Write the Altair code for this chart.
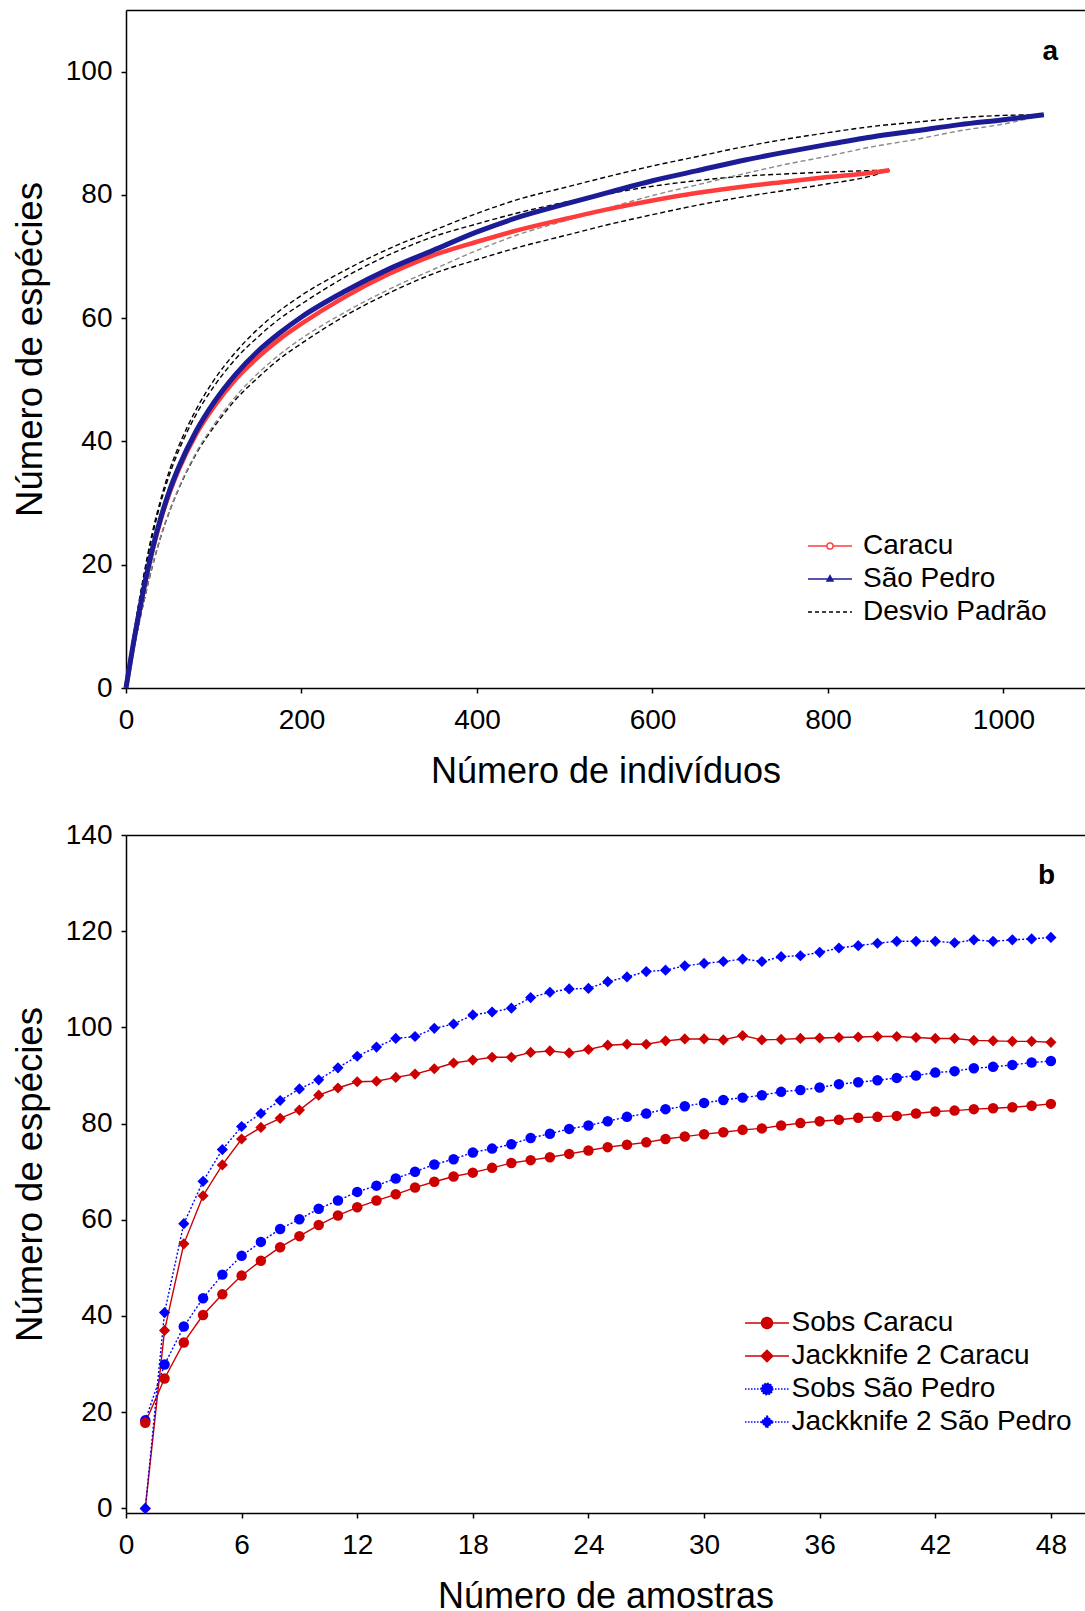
import altair as alt
import pandas as pd

FONT = "Liberation Sans"

# ---------------- Panel a: rarefaction by number of individuals ----------------
ind_sp = [0, 10, 20, 30, 40, 50, 60, 80, 100, 125, 150, 175, 200, 250, 300, 350,
          400, 450, 500, 550, 600, 650, 700, 750, 800, 850, 900, 950, 1000, 1046]
sp_mean = [0, 8.5, 16.0, 22.5, 27.8, 32.2, 35.8, 41.7, 46.3, 50.9, 54.6, 57.6, 60.2,
           64.4, 68.0, 71.0, 74.0, 76.5, 78.5, 80.4, 82.3, 83.9, 85.5, 86.9, 88.2,
           89.4, 90.4, 91.4, 92.2, 93.0]
sp_upper = [0, 9.8, 18.1, 25.2, 30.8, 35.5, 39.2, 45.2, 49.9, 54.5, 58.2, 61.2, 63.7,
            67.8, 71.3, 74.2, 77.0, 79.4, 81.2, 83.0, 84.7, 86.2, 87.7, 89.0, 90.1,
            91.1, 91.8, 92.5, 92.9, 93.0]
sp_lower = [0, 7.2, 13.9, 19.8, 24.8, 28.9, 32.4, 38.2, 42.7, 47.3, 51.0, 54.1, 56.7,
            61.0, 64.7, 67.9, 71.0, 73.7, 75.8, 77.9, 79.9, 81.6, 83.3, 84.9, 86.3,
            87.8, 89.0, 90.4, 91.5, 93.0]

ind_car = [0, 10, 20, 30, 40, 50, 60, 80, 100, 125, 150, 175, 200, 250, 300, 350,
           400, 450, 500, 550, 600, 650, 700, 750, 800, 850, 870]
car_mean = [0, 8.4, 15.8, 22.2, 27.5, 31.8, 35.4, 41.2, 45.6, 50.1, 53.6, 56.6, 59.1,
            63.5, 67.2, 70.2, 72.4, 74.4, 76.1, 77.7, 79.1, 80.3, 81.3, 82.1, 82.9,
            83.6, 84.0]
car_upper = [0, 9.6, 17.8, 24.7, 30.3, 34.8, 38.5, 44.4, 48.9, 53.4, 56.9, 59.9, 62.3,
             66.7, 70.3, 73.2, 75.3, 77.2, 78.8, 80.2, 81.4, 82.3, 83.0, 83.4, 83.7,
             83.95, 84.0]
car_lower = [0, 7.2, 13.8, 19.7, 24.7, 28.8, 32.3, 38.0, 42.3, 46.8, 50.3, 53.4, 55.9,
             60.4, 64.1, 67.2, 69.5, 71.6, 73.4, 75.2, 76.8, 78.3, 79.6, 80.7, 81.8,
             83.1, 84.0]

legend_a = ["Caracu", "São Pedro", "Desvio Padrão"]
bands = ["Caracu +DP", "Caracu -DP", "São Pedro +DP", "São Pedro -DP"]

# ---------------- Panel b: sample-based curves ----------------
samples = list(range(1, 49))
sobs_caracu = [17.8, 27.0, 34.5, 40.2, 44.5, 48.4, 51.5, 54.3, 56.6, 58.9, 60.9, 62.6,
               64.0, 65.3, 66.7, 67.9, 69.0, 69.8, 70.8, 71.8, 72.4, 73.0, 73.7, 74.4,
               75.1, 75.6, 76.1, 76.8, 77.3, 77.8, 78.2, 78.7, 79.0, 79.6, 80.1, 80.5,
               80.8, 81.2, 81.4, 81.6, 82.1, 82.5, 82.7, 83.0, 83.2, 83.4, 83.7, 84.1]
sobs_saopedro = [18.3, 29.9, 37.8, 43.7, 48.6, 52.5, 55.4, 58.1, 60.1, 62.3, 64.0, 65.8,
                 67.1, 68.6, 70.0, 71.5, 72.6, 74.0, 74.8, 75.7, 77.0, 77.9, 78.9, 79.6,
                 80.5, 81.4, 82.1, 83.0, 83.6, 84.3, 84.9, 85.4, 85.9, 86.6, 87.0, 87.5,
                 88.2, 88.6, 89.0, 89.5, 90.0, 90.6, 90.9, 91.5, 91.8, 92.2, 92.7, 93.0]
jack_caracu = [0, 37.0, 55.0, 65.0, 71.4, 76.8, 79.2, 81.1, 82.8, 85.9, 87.4, 88.7,
               88.8, 89.6, 90.3, 91.4, 92.6, 93.2, 93.8, 93.8, 94.8, 95.1, 94.7, 95.4,
               96.3, 96.5, 96.5, 97.2, 97.6, 97.6, 97.4, 98.3, 97.4, 97.5, 97.7, 97.8,
               97.9, 98.0, 98.1, 98.1, 97.9, 97.7, 97.7, 97.3, 97.2, 97.1, 97.1, 96.9]
jack_saopedro = [0, 40.7, 59.2, 68.0, 74.6, 79.4, 82.1, 84.8, 87.2, 89.1, 91.6, 94.0,
                 95.9, 97.7, 98.1, 99.8, 100.7, 102.6, 103.2, 104.0, 106.2, 107.3, 108.0,
                 108.1, 109.5, 110.5, 111.6, 111.9, 112.8, 113.3, 113.7, 114.2, 113.7,
                 114.7, 114.9, 115.6, 116.5, 117.0, 117.5, 117.9, 117.9, 117.9, 117.6,
                 118.2, 117.9, 118.2, 118.4, 118.7]

series_b = ["Sobs Caracu", "Jackknife 2 Caracu", "Sobs São Pedro", "Jackknife 2 São Pedro"]
sites_b = ["Caracu", "São Pedro"]

# ---------------- tables ----------------
def table(x, y, group, band):
    return pd.DataFrame({"x": x, "y": y, "group": group, "band": band})

curves = pd.concat([
    table(ind_car, car_mean, "Caracu", "mean"),
    table(ind_sp, sp_mean, "São Pedro", "mean"),
    table(ind_car, car_upper, "Caracu", bands[0]),
    table(ind_car, car_lower, "Caracu", bands[1]),
    table(ind_sp, sp_upper, "São Pedro", bands[2]),
    table(ind_sp, sp_lower, "São Pedro", bands[3]),
], ignore_index=True)

# point order controls which marker sits on top
samples_df = pd.concat([
    pd.DataFrame({"n": samples, "spp": sobs_saopedro, "series": series_b[2], "site": "São Pedro", "kind": "Sobs"}),
    pd.DataFrame({"n": samples, "spp": sobs_caracu, "series": series_b[0], "site": "Caracu", "kind": "Sobs"}),
    pd.DataFrame({"n": samples, "spp": jack_caracu, "series": series_b[1], "site": "Caracu", "kind": "Jack"}),
    pd.DataFrame({"n": samples, "spp": jack_saopedro, "series": series_b[3], "site": "São Pedro", "kind": "Jack"}),
], ignore_index=True)

# ---------------- shared styling ----------------
PW, PH = 959, 678
LABEL = 28
TITLE = 36

def bottom_axis(values, title):
    return alt.Axis(orient="bottom", values=values, title=title, tickSize=5, format="d",
                    labelPadding=13, titlePadding=20, labelFlush=False, grid=False)

top_axis = alt.Axis(orient="top", labels=False, ticks=False, title=None, grid=False)

def left_axis(values):
    return alt.Axis(values=values, title="Número de espécies", tickSize=5,
                    labelPadding=9, titlePadding=16, titleFontSize=36.5, grid=False)

def panel_tag(letter, dx, dy):
    return alt.TitleParams(letter, anchor="end", orient="top", fontSize=28,
                           fontWeight="bold", font=FONT, dx=dx, dy=dy, offset=0,
                           baseline="alphabetic")

def combo_legend(x, y, offset):
    return alt.Legend(orient="none", legendX=x, legendY=y, title=None,
                      labelFontSize=28, labelFont=FONT, labelColor="black", labelLimit=0,
                      symbolSize=676, symbolStrokeWidth=1.5, symbolOffset=0,
                      labelOffset=offset, rowPadding=5, padding=0)

# ---------------- panel a ----------------
xa = alt.Scale(domain=[0, 1092.9], nice=False, zero=False)
ya = alt.Scale(domain=[0, 110], nice=False, zero=False)
ya_enc = alt.Y("y:Q", scale=ya, axis=left_axis([0, 20, 40, 60, 80, 100]))

bound_lines = alt.Chart(curves).transform_filter(alt.datum.band != "mean").mark_line(
    strokeWidth=1.4, strokeDash=[5, 3], interpolate="monotone"
).encode(
    x=alt.X("x:Q", scale=xa, axis=None),
    y=ya_enc,
    color=alt.Color("band:N", scale=alt.Scale(domain=bands,
                    range=["#000000", "#000000", "#000000", "#8a8a8a"]), legend=None),
)

caracu_line = alt.Chart(curves).transform_filter(
    (alt.datum.band == "mean") & (alt.datum.group == "Caracu")
).mark_line(color="#ff3b3b", strokeWidth=4.5, interpolate="monotone").encode(
    x=alt.X("x:Q", scale=xa, axis=bottom_axis([0, 200, 400, 600, 800, 1000], "Número de indivíduos")),
    y=ya_enc,
)

saopedro_line = alt.Chart(curves).transform_filter(
    (alt.datum.band == "mean") & (alt.datum.group == "São Pedro")
).mark_line(color="#1c1c96", strokeWidth=5, interpolate="monotone").encode(
    x=alt.X("x:Q", scale=xa, axis=top_axis),
    y=ya_enc,
)

r = 1.69
paths_a = [
    f"M-{r},0H-0.24M0.24,0H{r}M0.24,0A0.24,0.24,0,1,1,-0.24,0A0.24,0.24,0,1,1,0.24,0Z",
    f"M-{r},0H{r}M0,-0.26L0.23,0.16L-0.23,0.16Z",
    f"M-{r},0H{r}",
]
leg_a = combo_legend(690, 522, 19)
legend_layer_a = alt.Chart(curves).transform_filter("false").mark_point(
    filled=True, opacity=1
).encode(
    fill=alt.Fill("group:N", scale=alt.Scale(domain=legend_a, range=["#ffffff", "#1c1c96", "#000000"]), legend=leg_a),
    stroke=alt.Stroke("group:N", scale=alt.Scale(domain=legend_a, range=["#ff3b3b", "#1c1c96", "#000000"]), legend=leg_a),
    shape=alt.Shape("group:N", scale=alt.Scale(domain=legend_a, range=paths_a), legend=leg_a),
    strokeDash=alt.StrokeDash("group:N", scale=alt.Scale(domain=legend_a, range=[[1, 0], [1, 0], [4, 3]]), legend=leg_a),
)

panel_a = alt.layer(
    bound_lines, caracu_line, saopedro_line, legend_layer_a
).resolve_axis(x="independent").properties(width=PW, height=PH, title=panel_tag("a", -27, 78))

# ---------------- panel b ----------------
xb = alt.Scale(domain=[0, 49.77], nice=False, zero=False)
yb = alt.Scale(domain=[-0.96, 140], nice=False, zero=False)
yb_enc = alt.Y("spp:Q", scale=yb, axis=left_axis([0, 20, 40, 60, 80, 100, 120, 140]))
xb_plain = alt.X("n:Q", scale=xb, axis=None)

colors_b = ["#cc0000", "#cc0000", "#0000ff", "#0000ff"]
site_color = alt.Color("site:N", scale=alt.Scale(domain=sites_b, range=["#cc0000", "#0000ff"]), legend=None)

red_lines = alt.Chart(samples_df).transform_filter(alt.datum.site == "Caracu").mark_line(
    color="#cc0000", strokeWidth=1.4
).encode(
    x=alt.X("n:Q", scale=xb, axis=bottom_axis(list(range(0, 49, 6)), "Número de amostras")),
    y=yb_enc, detail="series:N",
)

blue_lines = alt.Chart(samples_df).transform_filter(alt.datum.site == "São Pedro").mark_line(
    color="#0000ff", strokeWidth=1.4, strokeDash=[2, 2]
).encode(
    x=alt.X("n:Q", scale=xb, axis=top_axis),
    y=yb_enc, detail="series:N",
)

circles = alt.Chart(samples_df).transform_filter(alt.datum.kind == "Sobs").mark_point(
    shape="circle", filled=True, opacity=1, size=110
).encode(x=xb_plain, y=yb_enc, color=site_color)

diamonds = alt.Chart(samples_df).transform_filter(alt.datum.kind == "Jack").mark_point(
    shape="diamond", filled=True, opacity=1, size=125
).encode(x=xb_plain, y=yb_enc, color=site_color)

paths_b = [
    f"M-{r},0H{r}M0.42,0A0.42,0.42,0,1,1,-0.42,0A0.42,0.42,0,1,1,0.42,0Z",
    f"M-{r},0H{r}M0,-0.44L0.44,0L0,0.44L-0.44,0Z",
    f"M-{r},0H{r}M0.44,0A0.44,0.44,0,1,1,-0.44,0A0.44,0.44,0,1,1,0.44,0Z",
    f"M-{r},0H{r}M0,-0.46L0.46,0L0,0.46L-0.46,0Z",
]
leg_b = combo_legend(627, 474, 10.5)
legend_layer_b = alt.Chart(samples_df).transform_filter("false").mark_point(
    filled=True, opacity=1
).encode(
    fill=alt.Fill("series:N", scale=alt.Scale(domain=series_b, range=colors_b), legend=leg_b),
    stroke=alt.Stroke("series:N", scale=alt.Scale(domain=series_b, range=colors_b), legend=leg_b),
    shape=alt.Shape("series:N", scale=alt.Scale(domain=series_b, range=paths_b), legend=leg_b),
    strokeDash=alt.StrokeDash("series:N", scale=alt.Scale(domain=series_b,
                              range=[[1, 0], [1, 0], [1.5, 1.5], [1.5, 1.5]]), legend=leg_b),
)

panel_b = alt.layer(
    red_lines, blue_lines, circles, diamonds, legend_layer_b
).resolve_axis(x="independent").properties(width=PW, height=PH, title=panel_tag("b", -30, 91))

chart = alt.vconcat(panel_a, panel_b, spacing=32).resolve_scale(
    color="independent", fill="independent", stroke="independent",
    shape="independent", strokeDash="independent",
).properties(
    padding={"left": 12, "top": 10, "right": 0, "bottom": 0}
).configure(font=FONT).configure_view(stroke=None).configure_axis(
    labelFont=FONT, titleFont=FONT, labelFontSize=LABEL, titleFontSize=TITLE,
    titleFontWeight="normal", labelColor="black", titleColor="black",
    domainColor="black", tickColor="black", domainWidth=1.5, tickWidth=1.5,
)

chart.save("out.html", embed_options={"renderer": "svg", "actions": False})
